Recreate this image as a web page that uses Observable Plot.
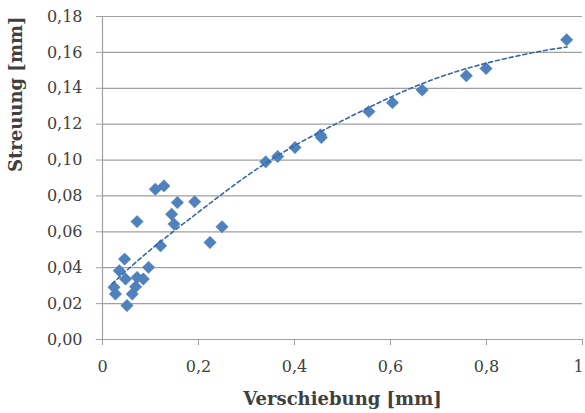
<!DOCTYPE html>
<html>
<head>
<meta charset="utf-8">
<script src="https://cdn.jsdelivr.net/npm/d3@7"></script>
<script src="https://cdn.jsdelivr.net/npm/@observablehq/plot@0.6"></script>
<style>
  html, body { margin: 0; padding: 0; background: #fff; }
  #chart svg { display: block; }
</style>
</head>
<body>
<div id="chart"></div>
<script>
// Scatter data: Verschiebung [mm] (x) vs Streuung [mm] (y)
const verschiebung = [
  0.024, 0.027, 0.035, 0.046, 0.048, 0.051, 0.062, 0.069, 0.072, 0.072,
  0.085, 0.096, 0.110, 0.121, 0.128, 0.144, 0.149, 0.156, 0.192, 0.224,
  0.249, 0.340, 0.365, 0.401, 0.454, 0.456, 0.555, 0.604, 0.666, 0.758,
  0.799, 0.967
];
const streuung = [
  0.0291, 0.0254, 0.0383, 0.0448, 0.0337, 0.0189, 0.0254, 0.0294, 0.0346, 0.0657,
  0.0337, 0.0402, 0.0837, 0.0522, 0.0856, 0.0698, 0.0643, 0.0763, 0.0768, 0.0541,
  0.0628, 0.0990, 0.1020, 0.1070, 0.1140, 0.1126, 0.1270, 0.1320, 0.1390, 0.1470,
  0.1510, 0.1670
];

// Dashed trend line
const trendX = [0.02, 0.1, 0.2, 0.3, 0.4, 0.5, 0.6, 0.7, 0.8, 0.9, 0.968];
const trendY = [0.031, 0.050, 0.071, 0.091, 0.108, 0.122, 0.135, 0.146, 0.154, 0.160, 0.163];

// Tick values
const xTicks = [0, 0.2, 0.4, 0.6, 0.8, 1];
const yTicks = [0, 0.02, 0.04, 0.06, 0.08, 0.10, 0.12, 0.14, 0.16, 0.18];

const xLabel = "Verschiebung [mm]";
const yLabel = "Streuung [mm]";

const points = verschiebung.map((x, i) => ({x, y: streuung[i]}));
const trend = trendX.map((x, i) => ({x, y: trendY[i]}));

const gridColor = "#a0a0a0";
const markerColor = "#4f81bd";
const trendColor = "#3a67a6";
const textColor = "#404040";
const font = "'DejaVu Serif', serif";
const fmtX = d => String(d).replace(".", ",");

const chart = Plot.plot({
  width: 585,
  height: 413,
  marginLeft: 102,
  marginRight: 3,
  marginTop: 16,
  marginBottom: 74,
  style: {fontFamily: font, fontSize: "16px", color: textColor, background: "#fff"},
  x: {domain: [0, 1]},
  y: {domain: [0, 0.18]},
  marks: [
    Plot.gridY(yTicks, {stroke: gridColor, strokeOpacity: 1, strokeWidth: 1.2}),
    Plot.ruleX([0], {stroke: gridColor, strokeWidth: 1.2}),
    Plot.axisY({
      ticks: yTicks,
      tickSize: 6,
      tickPadding: 14,
      stroke: gridColor,
      tickFormat: d => d.toFixed(2).replace(".", ","),
      label: null,
      fill: textColor
    }),
    // x ticks (lines only)
    Plot.axisX({ticks: xTicks, tickSize: 6, stroke: gridColor, tickFormat: null, text: null, label: null}),
    // x tick labels
    Plot.axisX({ticks: xTicks.slice(0, -1), tickSize: 0, tickPadding: 21, tickFormat: fmtX, label: null, fill: textColor}),
    Plot.axisX({ticks: xTicks.slice(-1), tickSize: 0, tickPadding: 21, dx: -4, tickFormat: fmtX, label: null, fill: textColor}),
    Plot.dot(points, {x: "x", y: "y", symbol: "diamond2", r: 5.6, fill: markerColor, stroke: markerColor, strokeWidth: 0.5}),
    Plot.line(trend, {x: "x", y: "y", curve: "natural", stroke: trendColor, strokeWidth: 1.6, strokeDasharray: "4,3"}),
    Plot.text([xLabel], {frameAnchor: "bottom", dy: 65, text: d => d, fontWeight: "bold", fontSize: 18, fill: textColor}),
    Plot.text([yLabel], {frameAnchor: "left", dx: -86, dy: -6, rotate: -90, text: d => d, fontWeight: "bold", fontSize: 18, fill: textColor})
  ]
});

document.getElementById("chart").appendChild(chart);
</script>
</body>
</html>
